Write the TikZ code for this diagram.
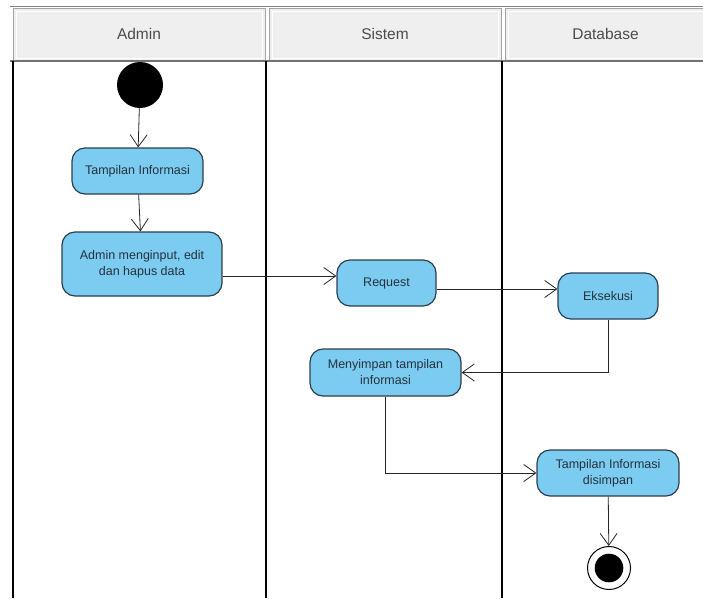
\documentclass[tikz,border=0pt]{standalone}
\usepackage{fontspec}
\setmainfont{Liberation Sans}
\usetikzlibrary{arrows.meta}
\definecolor{actfill}{HTML}{7CCBF0}
\definecolor{actline}{HTML}{2E3E4E}
\definecolor{headfill}{HTML}{EFEFEF}
\definecolor{headline}{HTML}{A4A4A4}
\begin{document}
\begin{tikzpicture}[x=1pt, y=-1pt,
        action/.style={draw=actline, fill=actfill, line width=1.2pt, rounded corners=13pt,
            align=center, font=\fontsize{12.5}{16}\selectfont, text=actline!80!black, inner sep=2pt},
        flow/.style={draw=black!85, line width=0.8pt, -{Straight Barb[length=12pt, width=17pt]}},
        lane/.style={draw=black, line width=2.6pt},
        headcell/.style={draw=headline, fill=headfill, line width=0.9pt}]
    \useasboundingbox (0,0) rectangle (703,598);
    % swimlane header
    \draw[headline!80!black, line width=1pt] (10,6) -- (703,6);
    \foreach \xa/\xb/\name in {13/265/Admin, 269/501/Sistem, 505/706/Database} {
        \draw[headcell] (\xa,8) rectangle (\xb,61);
        \draw[white, line width=0.8pt] (\xa+3,11) rectangle (\xb-3,58);
        \node[font=\fontsize{15.5}{18}\selectfont, text=black!70] at ({(\xa+\xb)/2},34) {\name};
    }
    \draw[headline!70!black, line width=1.2pt] (10,61) -- (703,61);
    % lanes
    \foreach \x in {13,266,502} {
        \draw[lane] (\x,61) -- (\x,598);
    }
    % start and end
    \node[circle, fill=black, minimum size=46pt, inner sep=0pt] (start) at (140,85) {};
    \node[circle, draw=black, line width=1pt, fill=white, minimum size=43pt, inner sep=0pt] (final) at (609,568) {};
    \fill[black] (final.center) circle (14.3pt);
    % actions
    \node[action, minimum width=131pt, minimum height=46pt] (tampil) at (137.5,171) {Tampilan Informasi};
    \node[action, minimum width=160pt, minimum height=64pt] (input) at (142,264) {Admin menginput, edit\\dan hapus data};
    \node[action, minimum width=99pt, minimum height=46pt] (request) at (386.5,283) {Request};
    \node[action, minimum width=100pt, minimum height=46pt] (eksekusi) at (608,296) {Eksekusi};
    \node[action, minimum width=151pt, minimum height=47pt] (simpan) at (385.5,372.5) {Menyimpan tampilan\\informasi};
    \node[action, minimum width=142pt, minimum height=46pt] (disimpan) at (608,473) {Tampilan Informasi\\disimpan};
    % flows
    \draw[flow] (start) -- (tampil);
    \draw[flow] (tampil) -- (input);
    \draw[flow] ([yshift=-12pt]input.east) -- ([yshift=-12pt]input.east -| request.west);
    \draw[flow] ([yshift=-6pt]request.east) -- ([yshift=-6pt]request.east -| eksekusi.west);
    \draw[flow] (eksekusi.south) |- (simpan.east);
    \draw[flow] (simpan.south) |- (disimpan.west);
    \draw[flow] (disimpan) -- (final);
\end{tikzpicture}
\end{document}
